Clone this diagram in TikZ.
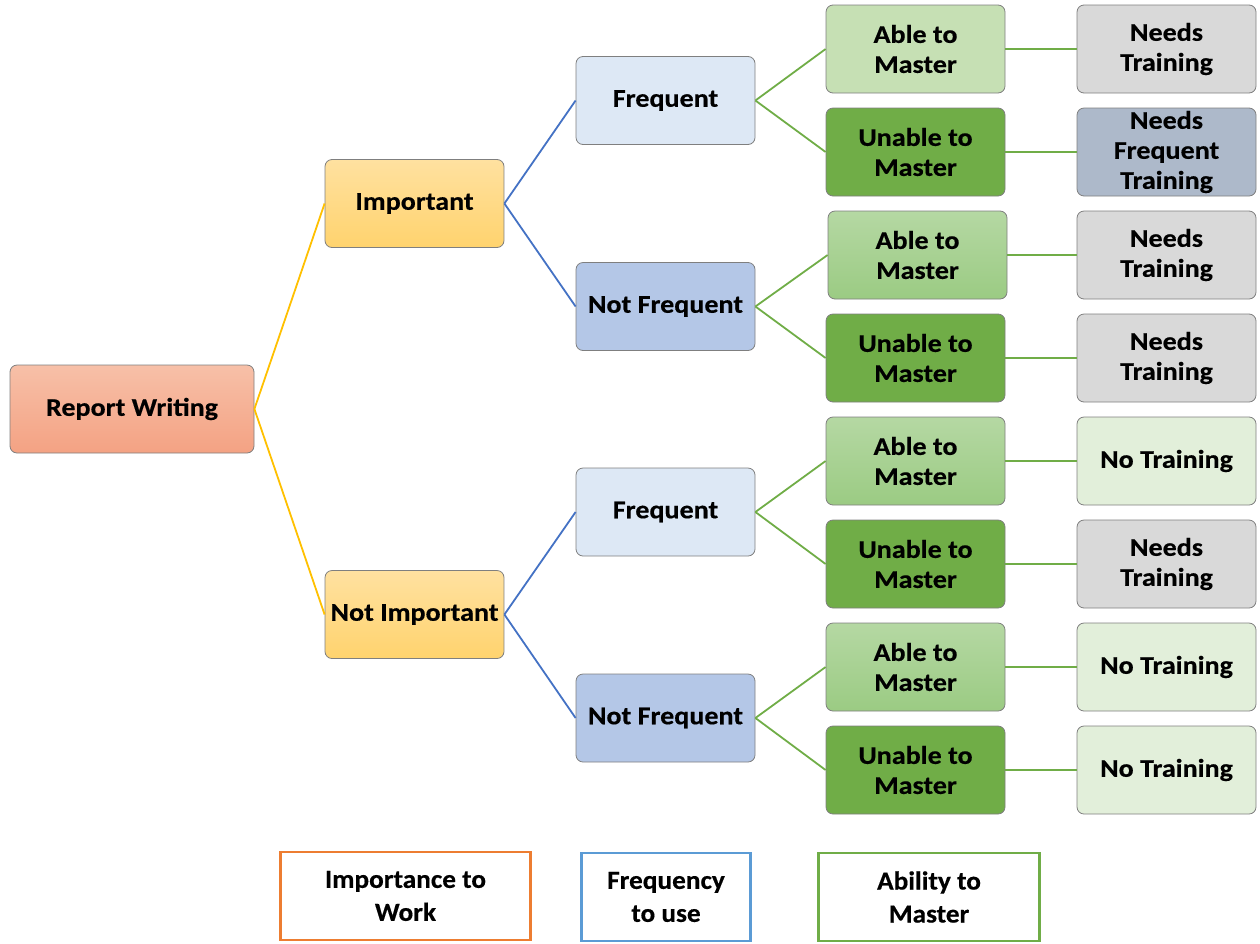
\documentclass[tikz,border=0pt]{standalone}
\usepackage{fontspec}
\setmainfont{Carlito}
\newfontfamily\boxfont[FakeStretch=1.1, BoldFeatures={FakeBold=0.4}]{Carlito}
\newfontfamily\legendfont[FakeStretch=1.05, BoldFeatures={FakeBold=0.4}]{Carlito}
\begin{document}
\begin{tikzpicture}[x=1pt,y=-1pt]
\definecolor{lineyellow}{HTML}{FFC000}
\definecolor{lineblue}{HTML}{4472C4}
\definecolor{linegreen}{HTML}{70AD47}
\definecolor{boxborder}{HTML}{7F7F7F}
\definecolor{rwtop}{HTML}{F7C0A8}
\definecolor{rwbot}{HTML}{F4A283}
\definecolor{imptop}{HTML}{FFE1A0}
\definecolor{impbot}{HTML}{FFD36E}
\definecolor{freq}{HTML}{DDE8F5}
\definecolor{notfreq}{HTML}{B4C7E7}
\definecolor{ablelight}{HTML}{C6E0B4}
\definecolor{abletop}{HTML}{B5D8A3}
\definecolor{ablebot}{HTML}{9BCB83}
\definecolor{unable}{HTML}{70AD47}
\definecolor{needs}{HTML}{D9D9D9}
\definecolor{needsfreq}{HTML}{ADB9CA}
\definecolor{notrain}{HTML}{E2EFDA}
\definecolor{legorange}{HTML}{ED7D31}
\definecolor{legblue}{HTML}{5B9BD5}
\definecolor{leggreen}{HTML}{70AD47}
\tikzset{
  box/.style={rectangle, rounded corners=7pt, draw=boxborder, line width=0.8pt,
    minimum width=179pt, minimum height=88pt, inner sep=0pt, align=center,
    font=\boxfont\fontsize{25.5}{30}\selectfont\bfseries},
  lvone/.style={draw=lineyellow, line width=1.8pt},
  lvtwo/.style={draw=lineblue, line width=1.8pt},
  lvthree/.style={draw=linegreen, line width=1.8pt},
  legendbox/.style={rectangle, fill=white, line width=2.2pt, inner sep=0pt, align=center,
    minimum height=88pt, font=\legendfont\fontsize{26}{33}\selectfont\bfseries},
}

\useasboundingbox (0,0) rectangle (1260,943);

% level 0 and 1
\node[box, minimum width=244pt, top color=rwtop, bottom color=rwbot] (rw) at (132,409) {Report Writing};
\node[box, top color=imptop, bottom color=impbot] (imp) at (414.5,203.5) {Important};
\node[box, top color=imptop, bottom color=impbot] (nimp) at (414.5,614.5) {Not Important};

% level 2
\node[box, fill=freq] (f1) at (665.5,100.5) {Frequent};
\node[box, fill=notfreq] (nf1) at (665.5,306.5) {Not Frequent};
\node[box, fill=freq] (f2) at (665.5,512) {Frequent};
\node[box, fill=notfreq] (nf2) at (665.5,718) {Not Frequent};

% level 3
\node[box, fill=ablelight] (a1) at (915.5,49) {Able to\\Master};
\node[box, fill=unable] (u1) at (915.5,152) {Unable to\\Master};
\node[box, top color=abletop, bottom color=ablebot] (a2) at (917.5,255) {Able to\\Master};
\node[box, fill=unable] (u2) at (915.5,358) {Unable to\\Master};
\node[box, top color=abletop, bottom color=ablebot] (a3) at (915.5,461) {Able to\\Master};
\node[box, fill=unable] (u3) at (915.5,564) {Unable to\\Master};
\node[box, top color=abletop, bottom color=ablebot] (a4) at (915.5,667) {Able to\\Master};
\node[box, fill=unable] (u4) at (915.5,770) {Unable to\\Master};

% level 4
\node[box, fill=needs] (t1) at (1166.5,49) {Needs\\Training};
\node[box, fill=needsfreq] (t2) at (1166.5,152) {Needs\\Frequent\\Training};
\node[box, fill=needs] (t3) at (1166.5,255) {Needs\\Training};
\node[box, fill=needs] (t4) at (1166.5,358) {Needs\\Training};
\node[box, fill=notrain] (t5) at (1166.5,461) {No Training};
\node[box, fill=needs] (t6) at (1166.5,564) {Needs\\Training};
\node[box, fill=notrain] (t7) at (1166.5,667) {No Training};
\node[box, fill=notrain] (t8) at (1166.5,770) {No Training};

% connectors
\draw[lvone] (rw.east) -- (imp.west);
\draw[lvone] (rw.east) -- (nimp.west);
\draw[lvtwo] (imp.east) -- (f1.west);
\draw[lvtwo] (imp.east) -- (nf1.west);
\draw[lvtwo] (nimp.east) -- (f2.west);
\draw[lvtwo] (nimp.east) -- (nf2.west);
\draw[lvthree] (f1.east) -- (a1.west);
\draw[lvthree] (f1.east) -- (u1.west);
\draw[lvthree] (nf1.east) -- (a2.west);
\draw[lvthree] (nf1.east) -- (u2.west);
\draw[lvthree] (f2.east) -- (a3.west);
\draw[lvthree] (f2.east) -- (u3.west);
\draw[lvthree] (nf2.east) -- (a4.west);
\draw[lvthree] (nf2.east) -- (u4.west);
\draw[lvthree] (a1.east) -- (t1.west);
\draw[lvthree] (u1.east) -- (t2.west);
\draw[lvthree] (a2.east) -- (t3.west);
\draw[lvthree] (u2.east) -- (t4.west);
\draw[lvthree] (a3.east) -- (t5.west);
\draw[lvthree] (u3.east) -- (t6.west);
\draw[lvthree] (a4.east) -- (t7.west);
\draw[lvthree] (u4.east) -- (t8.west);

% legend
\node[legendbox, draw=legorange, minimum width=250pt] (lg1) at (405.5,896) {Importance to\\Work};
\node[legendbox, draw=legblue, minimum width=169pt] (lg2) at (666,897) {Frequency\\to use};
\node[legendbox, draw=leggreen, minimum width=221pt] (lg3) at (929,897) {Ability to\\Master};
\end{tikzpicture}
\end{document}
